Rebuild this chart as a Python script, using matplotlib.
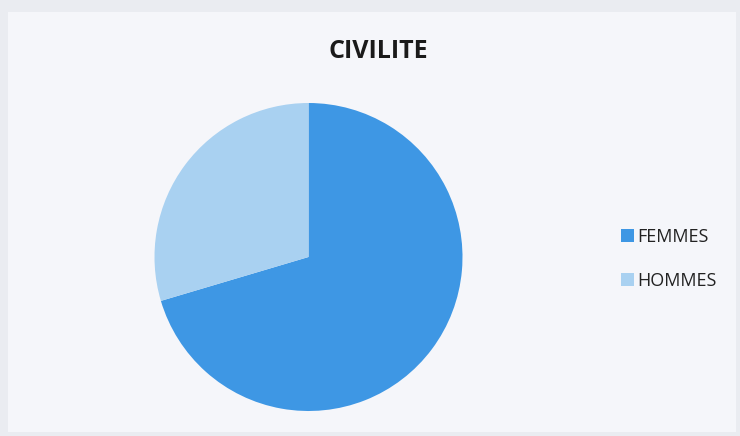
import matplotlib.pyplot as plt
from matplotlib.patches import Rectangle

labels = ["FEMMES", "HOMMES"]
values = [70.4, 29.6]
colors = ["#3e97e4", "#a9d1f1"]
title = "CIVILITE"

W, H = 740, 436
fig = plt.figure(figsize=(W / 100, H / 100), dpi=100)
fig.patch.set_facecolor("#eaecf1")

# chart area (slightly lighter than the surround)
fig.patches.append(Rectangle((8 / W, 4 / H), 728 / W, 420 / H,
                             transform=fig.transFigure, facecolor="#f5f6fa",
                             edgecolor="none", zorder=-1))

cx, cy, r = 308.5, 257, 154
ax = fig.add_axes([(cx - r) / W, (H - cy - r) / H, 2 * r / W, 2 * r / H])
ax.set_zorder(2)
wedges, _ = ax.pie(values, colors=colors, startangle=90, counterclock=False,
                   wedgeprops={"linewidth": 0})
ax.set_xlim(-1, 1)
ax.set_ylim(-1, 1)
ax.set_facecolor("none")

fig.text(378 / W, 1 - 51 / H, title, ha="center", va="center",
         fontsize=18, fontweight="bold", family="Open Sans", color="#1a1a1a")

leg = fig.legend(wedges, labels, loc="center left",
                 bbox_to_anchor=(605 / W, 1 - 259 / H), frameon=False,
                 handlelength=0.7, handleheight=0.7, handletextpad=0.2,
                 labelspacing=1.45, prop={"family": "Open Sans", "size": 13})
for t in leg.get_texts():
    t.set_color("#222222")

fig.savefig("out.png", dpi=100, facecolor=fig.get_facecolor())
